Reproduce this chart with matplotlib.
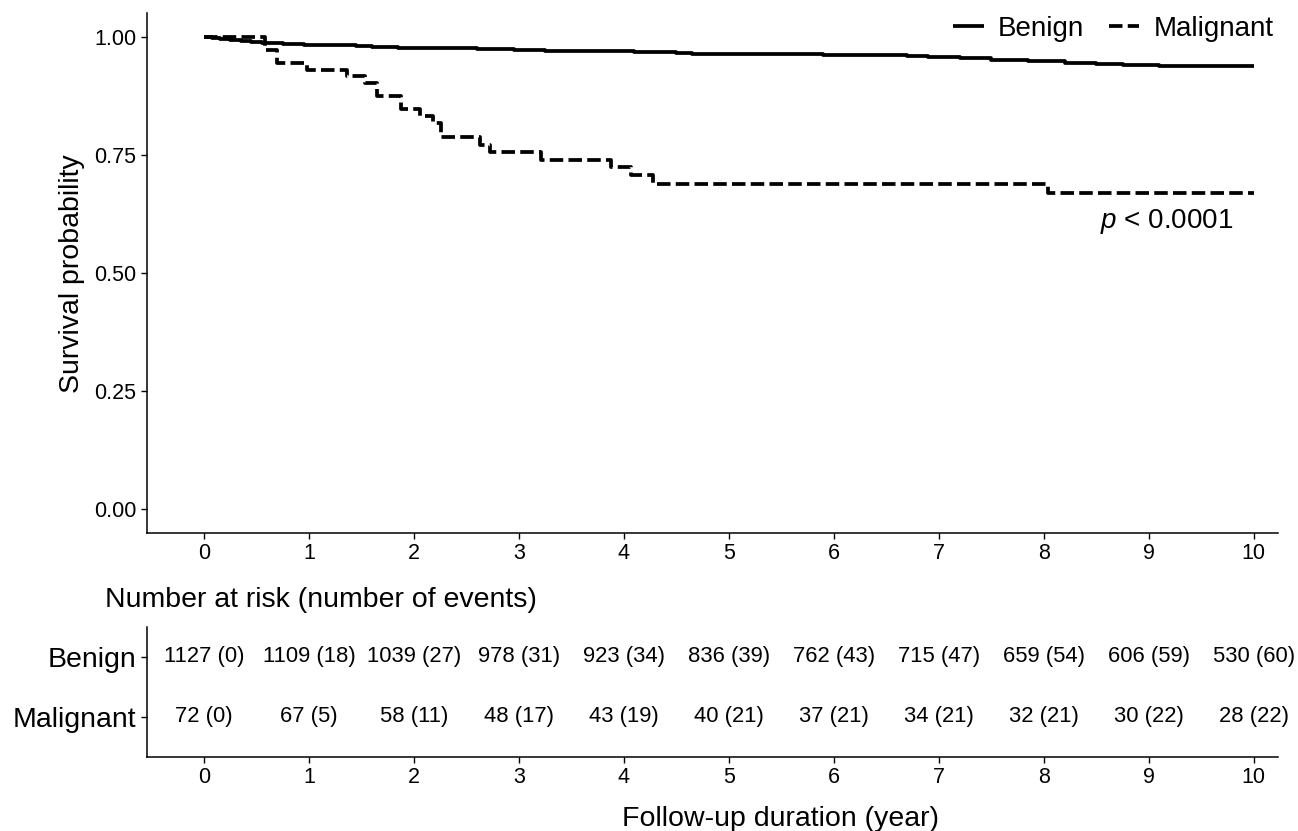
import numpy as np
import matplotlib
matplotlib.use("Agg")
import matplotlib.pyplot as plt

plt.rcParams['font.family'] = ['Liberation Sans', 'DejaVu Sans']
plt.rcParams['mathtext.fontset'] = 'custom'
plt.rcParams['mathtext.it'] = 'Liberation Sans:italic'
plt.rcParams['mathtext.rm'] = 'Liberation Sans'

# Kaplan-Meier curves (time in years, survival)
benign_time = [0, 0.08, 0.15, 0.25, 0.35, 0.45, 0.55, 0.75, 0.95, 1.25, 1.45, 1.6,
               1.85, 2.2, 2.6, 2.95, 3.25, 3.7, 4.1, 4.5, 4.65, 5.3, 5.9, 6.7, 6.9,
               7.2, 7.5, 7.85, 8.2, 8.5, 8.75, 9.1, 10]
benign_surv = [1.0, 0.998, 0.996, 0.994, 0.992, 0.990, 0.988, 0.986, 0.984, 0.983,
               0.981, 0.979, 0.977, 0.976, 0.975, 0.973, 0.971, 0.970, 0.969, 0.967,
               0.965, 0.963, 0.961, 0.959, 0.957, 0.955, 0.952, 0.949, 0.946, 0.943,
               0.940, 0.938, 0.938]

malig_time = [0, 0.58, 0.70, 0.98, 1.36, 1.53, 1.65, 1.88, 2.06, 2.18, 2.26, 2.63,
              2.72, 3.21, 3.88, 4.07, 4.28, 8.04, 10]
malig_surv = [1.0, 0.972, 0.944, 0.931, 0.917, 0.903, 0.875, 0.847, 0.832, 0.817,
              0.788, 0.772, 0.756, 0.740, 0.724, 0.707, 0.689, 0.669, 0.669]

# risk table
years = list(range(11))
benign_risk = [1127, 1109, 1039, 978, 923, 836, 762, 715, 659, 606, 530]
benign_events = [0, 18, 27, 31, 34, 39, 43, 47, 54, 59, 60]
malig_risk = [72, 67, 58, 48, 43, 40, 37, 34, 32, 30, 28]
malig_events = [0, 5, 11, 17, 19, 21, 21, 21, 21, 22, 22]
groups = ["Benign", "Malignant"]

W, H = 1298, 831
fig = plt.figure(figsize=(W / 100, H / 100), dpi=100)

def style(ax):
    for s in ['top', 'right']:
        ax.spines[s].set_visible(False)
    for s in ['left', 'bottom']:
        ax.spines[s].set_linewidth(1.1)
    ax.tick_params(direction='out', length=4, width=1.0, colors='black',
                   labelsize=15.5, pad=3.5)

xlim = (-0.543, 10.23)

# main survival plot
ax = fig.add_axes([147 / W, 1 - 533 / H, (1278 - 147) / W, (533 - 13.4) / H])
style(ax)
l1, = ax.step(benign_time, benign_surv, where='post', color='black', lw=2.7,
              solid_capstyle='butt', label=groups[0])
l2, = ax.step(malig_time, malig_surv, where='post', color='black', lw=2.7,
              linestyle=(0, (3.6, 1.4)), dash_capstyle='butt', label=groups[1])
ax.set_xlim(*xlim)
ax.set_ylim(-0.05, 1.05)
ax.set_xticks(years)
ax.set_yticks([0, 0.25, 0.5, 0.75, 1.0])
ax.set_yticklabels(["0.00", "0.25", "0.50", "0.75", "1.00"])
ax.text(9.17, 0.61, "$p$ < 0.0001", fontsize=20, ha='center', va='center')

fig.text(72 / W, 1 - 274 / H, "Survival probability", rotation=90, fontsize=20.5,
         ha='center', va='center')

fig.legend(handles=[l1, l2], loc='upper right', bbox_to_anchor=(1290 / W, 1 + 1 / H),
           ncol=2, frameon=False, fontsize=20, handlelength=1.1, handletextpad=0.5,
           columnspacing=0.9, borderaxespad=0.2)

# risk table
ax2 = fig.add_axes([147 / W, 1 - 757 / H, (1278 - 147) / W, (757 - 627) / H])
style(ax2)
ax2.set_xlim(*xlim)
ax2.set_ylim(-0.67, 1.5)
ax2.set_xticks(years)
ax2.set_yticks([1, 0])
ax2.set_yticklabels(groups)
ax2.tick_params(axis='y', labelsize=20.5)
for i, yr in enumerate(years):
    ax2.text(yr, 1, f"{benign_risk[i]} ({benign_events[i]})", ha='center',
             va='center', fontsize=15.8)
    ax2.text(yr, 0, f"{malig_risk[i]} ({malig_events[i]})", ha='center',
             va='center', fontsize=15.8)

fig.text(105 / W, 1 - 607 / H, "Number at risk (number of events)", fontsize=20.5,
         ha='left', va='baseline')
fig.text(780 / W, 1 - 826 / H, "Follow-up duration (year)", fontsize=20.5,
         ha='center', va='baseline')

fig.savefig("out.png", dpi=100)
